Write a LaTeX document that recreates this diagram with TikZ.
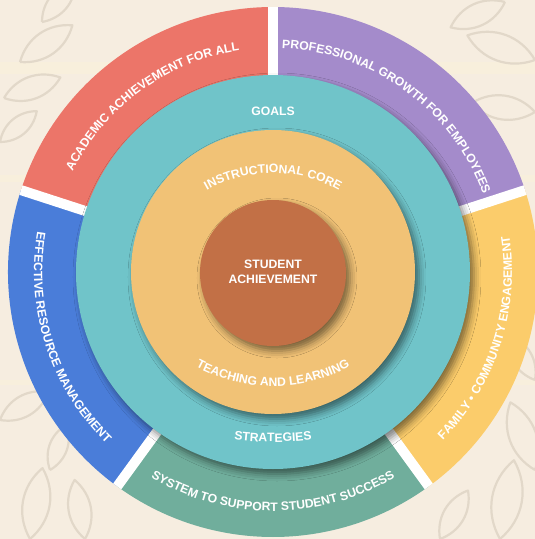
\documentclass[tikz,border=0pt]{standalone}
\usepackage{fontspec}
\setmainfont{Liberation Sans}
\usetikzlibrary{decorations.text,shadows.blur}
\definecolor{bgc}{HTML}{F6EDE0}
\definecolor{bandc}{HTML}{F8EFDC}
\definecolor{leafc}{HTML}{E2D8C9}
\definecolor{redc}{HTML}{EC7569}
\definecolor{purc}{HTML}{A48BCB}
\definecolor{bluc}{HTML}{4A7DD9}
\definecolor{grnc}{HTML}{70AE9C}
\definecolor{yelc}{HTML}{FBCC6B}
\definecolor{tealc}{HTML}{70C4C9}
\definecolor{orac}{HTML}{F1C276}
\definecolor{brnc}{HTML}{C27046}
\newcommand{\ringfnt}{\bfseries\fontsize{12.2}{14}\selectfont}
\newcommand{\myleaf}[4]{\begin{scope}[shift={({#1-273},{272-#2})},rotate=#3,scale=#4]\draw[leafline] (0,0) .. controls (12,10) and (28,10) .. (40,0) .. controls (28,-10) and (12,-10) .. (0,0);\end{scope}}
\newcommand{\mysector}[3]{\fill[#1] (#2:265) arc[start angle=#2, end angle=#3, radius=265] -- (#3:150) arc[start angle=#3, end angle=#2, radius=150] -- cycle;}
\tikzset{
  leafline/.style={draw=leafc, line width=2.2pt, line join=round},
  ringdeco/.style={decorate, decoration={text along path, text align=center, text color=white}},
  disc/.style={circle, inner sep=0pt, draw=none},
  softshadow/.style={blur shadow={shadow xshift=4pt, shadow yshift=-5pt, shadow blur radius=7pt, shadow opacity=50}},
  plainlabel/.style={text=white, font=\ringfnt}
}
\begin{document}
\begin{tikzpicture}[x=1pt,y=1pt]
\useasboundingbox (-273,-267) rectangle (262,272);
\fill[bgc] (-273,-267) rectangle (262,272);
\fill[bandc] (-273,210) rectangle (262,198);
\fill[bandc] (-273,97) rectangle (262,90);
\fill[bandc] (-273,-108) rectangle (262,-113);
% leaves
\myleaf{20}{62}{35}{1.6}
\myleaf{4}{98}{20}{1.5}
\myleaf{42}{22}{50}{1.3}
\myleaf{0}{142}{40}{1.2}
\myleaf{535}{60}{160}{1.8}
\myleaf{535}{112}{172}{1.6}
\myleaf{505}{2}{205}{1.5}
\myleaf{30}{539}{80}{1.8}
\myleaf{85}{539}{100}{1.5}
\myleaf{0}{420}{30}{1.4}
\myleaf{50}{470}{70}{1.2}
\myleaf{500}{539}{80}{2}
\myleaf{535}{470}{110}{1.8}
\myleaf{440}{539}{60}{1.4}
\myleaf{535}{380}{120}{1.3}
% outer ring
\mysector{purc}{18}{90}
\mysector{redc}{90}{162}
\mysector{bluc}{162}{234}
\mysector{grnc}{234}{306}
\mysector{yelc}{306}{378}
\foreach \a in {18,90,162,234,306} \draw[white, line width=10pt] (\a:150) -- (\a:265);
% ring texts
\path[ringdeco, decoration={text={|\ringfnt|ACADEMIC ACHIEVEMENT FOR ALL}}] (162:224) arc[start angle=162, end angle=90, radius=224];
\path[ringdeco, decoration={text={|\ringfnt|PROFESSIONAL GROWTH FOR EMPLOYEES}}] (90:224) arc[start angle=90, end angle=18, radius=224];
\path[ringdeco, decoration={text={|\ringfnt|EFFECTIVE RESOURCE MANAGEMENT}}] (162:239) arc[start angle=162, end angle=234, radius=239];
\path[ringdeco, decoration={text={|\ringfnt|SYSTEM TO SUPPORT STUDENT SUCCESS}}] (234:239) arc[start angle=234, end angle=306, radius=239];
\path[ringdeco, decoration={text={|\ringfnt|FAMILY • COMMUNITY ENGAGEMENT}}] (306:239) arc[start angle=306, end angle=378, radius=239];
% discs
\node[disc, fill=tealc, minimum size=394pt, softshadow] (tealdisc) at (0,0) {};
\node[disc, fill=orac, minimum size=284pt, softshadow] (oradisc) at (0,0) {};
\node[disc, fill=brnc, minimum size=146pt, softshadow] (brndisc) at (0,-1) {};
% inner texts
\node[plainlabel, anchor=base] (goals) at (0,157) {GOALS};
\path[ringdeco, decoration={text={|\ringfnt|STRATEGIES}}] ([shift={(0,130)}]250:300) arc[start angle=250, end angle=290, radius=300];
\path[ringdeco, decoration={text={|\ringfnt|INSTRUCTIONAL CORE}}] ([shift={(0,-34)}]125:133) arc[start angle=125, end angle=55, radius=133];
\path[ringdeco, decoration={text={|\ringfnt|TEACHING AND LEARNING}}] ([shift={(0,50)}]215:164) arc[start angle=215, end angle=325, radius=164];
\node[plainlabel, align=center, font=\bfseries\fontsize{12.2}{15}\selectfont] (center) at (0,0) {STUDENT\\ACHIEVEMENT};
\end{tikzpicture}
\end{document}
